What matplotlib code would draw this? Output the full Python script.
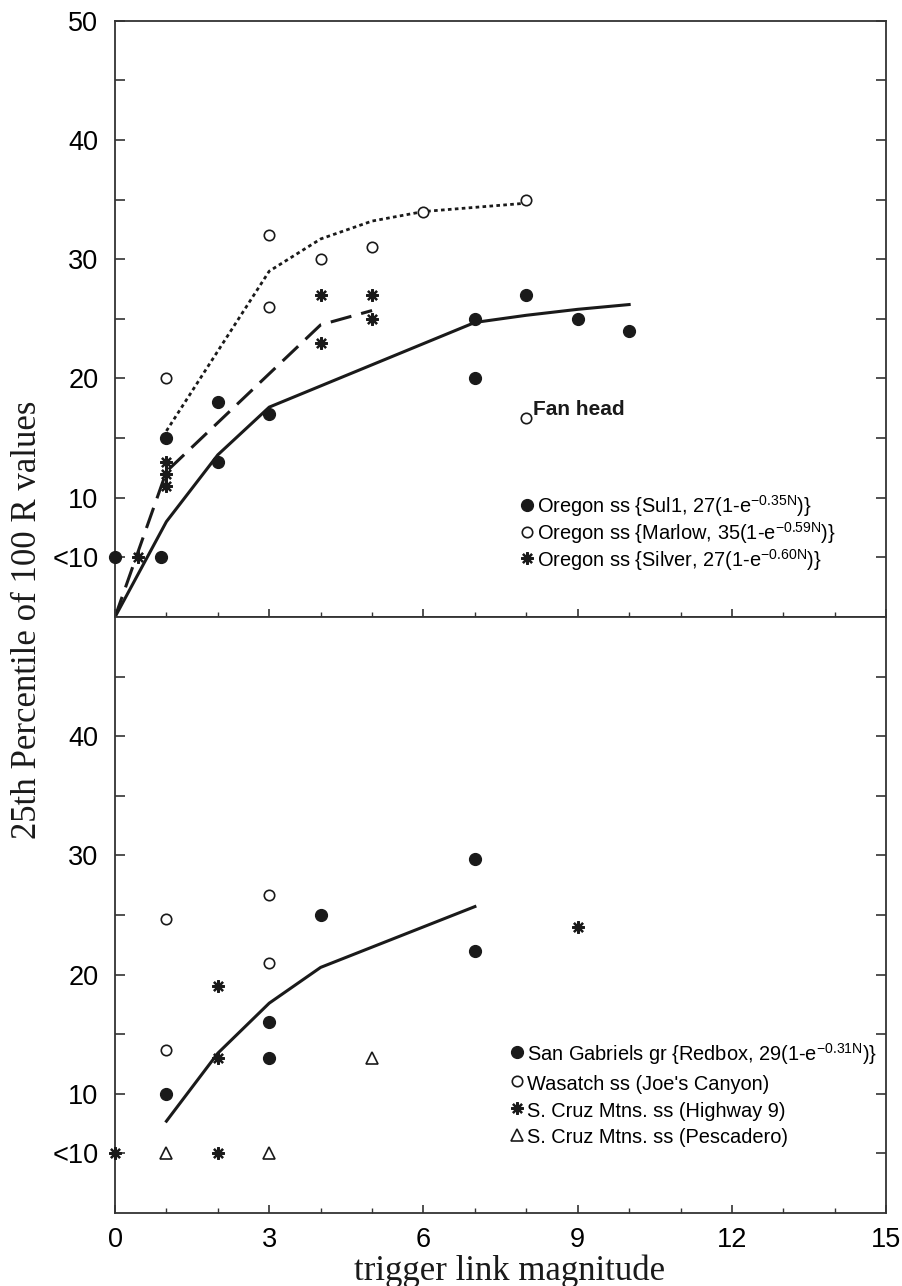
import matplotlib
matplotlib.use('Agg')
import matplotlib.pyplot as plt

plt.rcParams['font.family'] = ['Liberation Sans', 'DejaVu Sans']
plt.rcParams['mathtext.fontset'] = 'custom'
plt.rcParams['mathtext.rm'] = 'Liberation Sans'
plt.rcParams['mathtext.it'] = 'Liberation Sans'
plt.rcParams['mathtext.default'] = 'regular'

# ---- top panel: Oregon sandstone sites ----
sul1_x = [0, 0.9, 1, 2, 2, 3, 7, 7, 8, 9, 10]
sul1_y = [5, 5, 15, 13, 18, 17, 25, 20, 27, 25, 24]
marlow_x = [1, 3, 3, 4, 5, 6, 8]
marlow_y = [20, 32, 26, 30, 31, 34, 35]
fanhead_x = [8]
fanhead_y = [16.7]
silver_x = [0.45, 1, 1, 1, 4, 4, 5, 5]
silver_y = [5, 13, 12, 11, 27, 23, 27, 25]

# fitted curves
sul1_fit_x = [0, 1, 2, 3, 7, 8, 9, 10]
sul1_fit_y = [0, 8.0, 13.6, 17.6, 24.7, 25.3, 25.8, 26.2]
marlow_fit_x = [1, 3, 4, 5, 6, 8]
marlow_fit_y = [15.6, 29.0, 31.7, 33.2, 34.0, 34.7]
silver_fit_x = [0, 1, 4, 5]
silver_fit_y = [0, 12.2, 24.5, 25.7]

top_labels = ['Oregon ss {Sul1, 27(1-e$^{-0.35N}$)}',
              'Oregon ss {Marlow, 35(1-e$^{-0.59N}$)}',
              'Oregon ss {Silver, 27(1-e$^{-0.60N}$)}']

# ---- bottom panel: other sites ----
redbox_x = [1, 3, 3, 4, 7, 7]
redbox_y = [10, 16, 13, 25, 29.7, 22]
wasatch_x = [1, 1, 3, 3]
wasatch_y = [24.7, 13.7, 26.7, 21]
hwy9_x = [0, 2, 2, 2, 9]
hwy9_y = [5, 19, 13, 5, 24]
pesc_x = [1, 3, 5]
pesc_y = [5, 5, 13]
redbox_fit_x = [1, 2, 3, 4, 7]
redbox_fit_y = [7.7, 13.4, 17.6, 20.6, 25.7]

bottom_labels = ['San Gabriels gr {Redbox, 29(1-e$^{-0.31N}$)}',
                 "Wasatch ss (Joe's Canyon)",
                 'S. Cruz Mtns. ss (Highway 9)',
                 'S. Cruz Mtns. ss (Pescadero)']

x_ticks = [0, 3, 6, 9, 12, 15]
x_minor = list(range(16))
top_yticks = [5, 10, 15, 20, 25, 30, 35, 40, 45, 50]
top_ylabels = ['<10', '10', '', '20', '', '30', '', '40', '', '50']
bot_yticks = [5, 10, 15, 20, 25, 30, 35, 40, 45]
bot_ylabels = ['<10', '10', '', '20', '', '30', '', '40', '']

ink = '#1a1a1a'
axcol = '#333333'
filled = dict(linestyle='none', marker='o', ms=8.5, color=ink, clip_on=False, zorder=3)
hollow = dict(linestyle='none', marker='o', ms=7.5, mfc='white', mec=ink, mew=1.2, clip_on=False, zorder=3)
star = dict(linestyle='none', marker=(8, 2, 0), ms=9, color=ink, mew=1.6, clip_on=False, zorder=3)
tri = dict(linestyle='none', marker='^', ms=8, mfc='white', mec=ink, mew=1.2, clip_on=False, zorder=3)

fig = plt.figure(figsize=(9.02, 12.86), dpi=100)
ax1 = fig.add_axes([0.1275, 0.5202, 0.855, 0.4637])
ax2 = fig.add_axes([0.1275, 0.0568, 0.855, 0.4635])


def style(ax, yticks, ylabels, xlabels):
    ax.set_xlim(0, 15)
    ax.set_ylim(0, 50)
    ax.set_yticks(yticks, ylabels)
    ax.set_xticks(x_ticks)
    ax.set_xticks(x_minor, minor=True)
    if not xlabels:
        ax.set_xticklabels([])
    for s in ax.spines.values():
        s.set_color(axcol)
        s.set_linewidth(1.3)
    ax.tick_params(axis='y', which='both', direction='in', left=True, right=True,
                   length=7, width=1.2, color=axcol, labelsize=19.5, pad=12)
    ax.tick_params(axis='x', which='major', direction='in', top=False, bottom=True,
                   length=6, width=1.2, color=axcol, labelsize=19.5, pad=10)
    ax.tick_params(axis='x', which='minor', direction='in', top=False, bottom=True,
                   length=3.6, width=1.0, color=axcol)


leg_kw = dict(loc='upper left', frameon=False, fontsize=14.4, handlelength=0.6,
              handletextpad=0.2, handleheight=1.25, borderpad=0, borderaxespad=0)

# top panel
ax1.plot(sul1_fit_x, sul1_fit_y, '-', color=ink, lw=2.2)
ax1.plot(marlow_fit_x, marlow_fit_y, color=ink, lw=2.0, linestyle=(0, (1.3, 1.2)))
ax1.plot(silver_fit_x, silver_fit_y, color=ink, lw=2.2, linestyle=(0, (7, 3.3)))
h1, = ax1.plot(sul1_x, sul1_y, **filled)
h2, = ax1.plot(marlow_x, marlow_y, **hollow)
ax1.plot(fanhead_x, fanhead_y, **hollow)
h3, = ax1.plot(silver_x, silver_y, **star)
ax1.annotate('Fan head', (fanhead_x[0], fanhead_y[0]), xytext=(5, 6),
             textcoords='offset points', ha='left', va='center',
             fontsize=15, fontweight='bold', color=ink)
style(ax1, top_yticks, top_ylabels, False)
ax1.legend([h1, h2, h3], top_labels, bbox_to_anchor=(0.527, 0.207),
           labelspacing=0.05, **leg_kw)

# bottom panel
ax2.plot(redbox_fit_x, redbox_fit_y, '-', color=ink, lw=2.2)
g1, = ax2.plot(redbox_x, redbox_y, **filled)
g2, = ax2.plot(wasatch_x, wasatch_y, **hollow)
g3, = ax2.plot(hwy9_x, hwy9_y, **star)
g4, = ax2.plot(pesc_x, pesc_y, **tri)
style(ax2, bot_yticks, bot_ylabels, True)
ax2.legend([g1, g2, g3, g4], bottom_labels, bbox_to_anchor=(0.5136, 0.288),
           labelspacing=0.27, **leg_kw)

fig.text(0.03, 0.518, '25th Percentile of 100 R values', rotation=90, ha='center', va='center',
         fontsize=25, family=['Liberation Serif', 'DejaVu Serif'], color=ink)
fig.text(0.565, 0.0047, 'trigger link magnitude', ha='center', va='baseline',
         fontsize=25, family=['Liberation Serif', 'DejaVu Serif'], color=ink)

fig.savefig('out.png', dpi=100)
